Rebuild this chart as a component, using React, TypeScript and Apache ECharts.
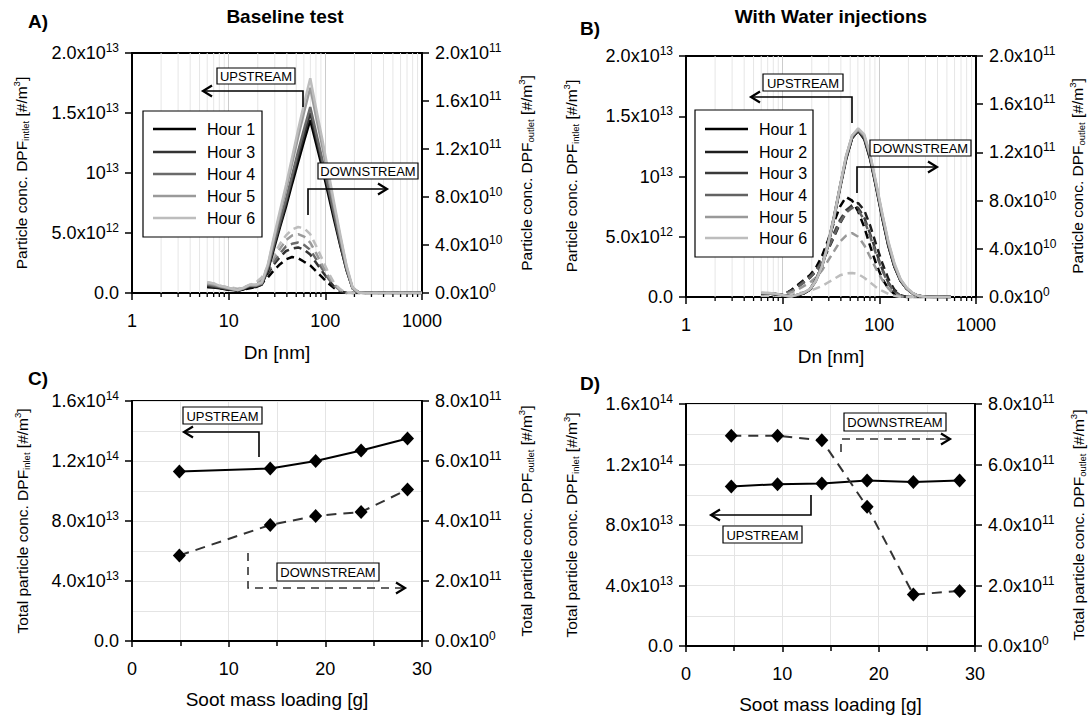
import React, { useEffect, useRef } from 'react';
import * as echarts from 'echarts';

const FONT = '"Liberation Sans", Arial, Helvetica, sans-serif';

// ---------- Panels A / B : size distributions ----------
const DN = [6, 7, 8.1, 9.3, 10.8, 12.4, 14.3, 16.5, 19.1, 22, 25.5, 29.4, 34, 39.2, 45.3, 52.3, 60.4, 69.8, 80.6, 93.1, 107.5, 124.1, 143.3, 165.5, 191.1, 220.7, 254.8, 294.3, 400, 550, 750, 1000];
const UP_UNIT = 1e12; // upstream values below are in 1e12 #/m3
const DOWN_UNIT = 1e10; // downstream values below are in 1e10 #/m3

// Panel A - Baseline test
const A_HOURS = ['Hour 1', 'Hour 3', 'Hour 4', 'Hour 5', 'Hour 6'];
const A_COLORS = ['#000000', '#333333', '#6a6a6a', '#9a9a9a', '#bdbdbd'];
const A_UP_H1 = [0.5, 0.45, 0.4, 0.3, 0.25, 0.2, 0.3, 0.5, 0.5, 0.7, 1.9, 3.7, 5.5, 7.2, 9.1, 10.9, 12.7, 14.4, 12.4, 10.4, 8.2, 6.0, 3.9, 1.9, 0.4, 0.05, 0, 0, 0, 0, 0, 0];
const A_UP_H3 = [0.6, 0.5, 0.45, 0.35, 0.3, 0.2, 0.35, 0.55, 0.55, 0.7, 2.0, 3.9, 5.7, 7.5, 9.5, 11.4, 13.2, 15.0, 12.9, 10.8, 8.6, 6.3, 4.0, 2.0, 0.4, 0.05, 0, 0, 0, 0, 0, 0];
const A_UP_H4 = [0.7, 0.6, 0.5, 0.4, 0.3, 0.25, 0.4, 0.6, 0.6, 0.8, 2.1, 4.1, 6.0, 7.8, 9.8, 11.8, 13.7, 15.5, 13.3, 11.1, 8.8, 6.5, 4.2, 2.0, 0.4, 0.05, 0, 0, 0, 0, 0, 0];
const A_UP_H5 = [0.8, 0.7, 0.55, 0.45, 0.35, 0.25, 0.4, 0.65, 0.65, 0.8, 2.3, 4.5, 6.6, 8.6, 10.8, 13.0, 15.1, 17.1, 14.6, 12.2, 9.6, 7.1, 4.6, 2.2, 0.4, 0.05, 0, 0, 0, 0, 0, 0];
const A_UP_H6 = [0.9, 0.8, 0.6, 0.5, 0.35, 0.25, 0.45, 0.7, 0.7, 0.9, 2.4, 4.7, 6.9, 9.0, 11.3, 13.6, 15.8, 17.9, 15.3, 12.8, 10.1, 7.4, 4.8, 2.3, 0.5, 0.05, 0, 0, 0, 0, 0, 0];
const A_DN_H1 = [0.5, 0.5, 0.4, 0.4, 0.3, 0.2, 0.3, 0.4, 0.5, 0.8, 1.3, 1.9, 2.4, 2.8, 3.0, 2.9, 2.6, 2.3, 1.8, 1.3, 0.8, 0.4, 0.1, 0, 0, 0, 0, 0, 0, 0, 0, 0];
const A_DN_H3 = [0.6, 0.5, 0.45, 0.4, 0.35, 0.25, 0.35, 0.5, 0.6, 1.0, 1.6, 2.4, 3.0, 3.5, 3.7, 3.8, 3.6, 3.2, 2.5, 1.8, 1.1, 0.5, 0.15, 0, 0, 0, 0, 0, 0, 0, 0, 0];
const A_DN_H4 = [0.7, 0.6, 0.5, 0.45, 0.4, 0.3, 0.4, 0.55, 0.7, 1.1, 1.8, 2.6, 3.3, 3.9, 4.1, 4.2, 4.0, 3.6, 2.8, 2.0, 1.2, 0.6, 0.2, 0, 0, 0, 0, 0, 0, 0, 0, 0];
const A_DN_H5 = [0.8, 0.7, 0.55, 0.5, 0.4, 0.3, 0.45, 0.6, 0.8, 1.2, 2.0, 2.9, 3.7, 4.4, 4.8, 4.9, 4.7, 4.2, 3.3, 2.3, 1.4, 0.7, 0.2, 0, 0, 0, 0, 0, 0, 0, 0, 0];
const A_DN_H6 = [0.9, 0.8, 0.6, 0.5, 0.45, 0.35, 0.5, 0.65, 0.9, 1.3, 2.2, 3.2, 4.1, 4.8, 5.3, 5.5, 5.4, 4.9, 3.9, 2.8, 1.7, 0.8, 0.3, 0, 0, 0, 0, 0, 0, 0, 0, 0];

// Panel B - With Water injections
const B_HOURS = ['Hour 1', 'Hour 2', 'Hour 3', 'Hour 4', 'Hour 5', 'Hour 6'];
const B_COLORS = ['#000000', '#1e1e1e', '#3a3a3a', '#626262', '#999999', '#bdbdbd'];
const B_UP_H1 = [0.3, 0.3, 0.25, 0.2, 0.1, 0.05, 0.15, 0.3, 0.6, 1.4, 2.6, 4.3, 6.6, 9.1, 11.5, 13.2, 13.8, 13.1, 11.4, 9.0, 6.5, 4.2, 2.5, 1.35, 0.7, 0.3, 0.1, 0.03, 0, 0];
const B_UP_H2 = [0.3, 0.3, 0.25, 0.2, 0.1, 0.05, 0.15, 0.3, 0.6, 1.4, 2.6, 4.3, 6.6, 9.1, 11.5, 13.2, 13.8, 13.2, 11.5, 9.1, 6.6, 4.3, 2.5, 1.35, 0.7, 0.3, 0.1, 0.03, 0, 0];
const B_UP_H3 = [0.25, 0.3, 0.25, 0.2, 0.1, 0.05, 0.15, 0.3, 0.6, 1.3, 2.5, 4.2, 6.5, 9.0, 11.4, 13.2, 13.8, 13.2, 11.5, 9.1, 6.6, 4.3, 2.6, 1.4, 0.7, 0.3, 0.1, 0.03, 0, 0];
const B_UP_H4 = [0.3, 0.3, 0.25, 0.2, 0.1, 0.05, 0.2, 0.35, 0.6, 1.4, 2.6, 4.4, 6.7, 9.2, 11.6, 13.3, 13.9, 13.3, 11.6, 9.2, 6.7, 4.4, 2.6, 1.4, 0.7, 0.3, 0.1, 0.03, 0, 0];
const B_UP_H5 = [0.35, 0.3, 0.3, 0.2, 0.1, 0.05, 0.2, 0.35, 0.65, 1.4, 2.6, 4.4, 6.7, 9.2, 11.7, 13.4, 13.9, 13.4, 11.7, 9.3, 6.8, 4.5, 2.7, 1.45, 0.75, 0.3, 0.1, 0.03, 0, 0];
const B_UP_H6 = [0.35, 0.35, 0.3, 0.2, 0.1, 0.05, 0.2, 0.35, 0.65, 1.3, 2.5, 4.3, 6.6, 9.2, 11.7, 13.4, 14.0, 13.5, 11.8, 9.4, 6.9, 4.6, 2.8, 1.5, 0.8, 0.35, 0.1, 0.03, 0, 0];
const B_DN_H1 = [0.3, 0.3, 0.25, 0.2, 0.3, 0.6, 1.0, 1.4, 1.8, 2.4, 3.4, 4.7, 6.2, 7.5, 8.3, 8.0, 7.1, 5.8, 4.2, 2.7, 1.5, 0.7, 0.25, 0.05, 0, 0, 0, 0, 0, 0];
const B_DN_H2 = [0.3, 0.3, 0.25, 0.2, 0.3, 0.5, 0.9, 1.2, 1.6, 2.1, 2.9, 3.9, 5.0, 6.1, 7.0, 7.6, 7.8, 7.2, 5.9, 4.3, 2.8, 1.5, 0.6, 0.15, 0, 0, 0, 0, 0, 0];
const B_DN_H3 = [0.3, 0.3, 0.25, 0.2, 0.3, 0.5, 0.9, 1.3, 1.7, 2.2, 3.0, 4.1, 5.3, 6.4, 7.2, 7.6, 7.4, 6.6, 5.2, 3.7, 2.3, 1.2, 0.5, 0.1, 0, 0, 0, 0, 0, 0];
const B_DN_H4 = [0.3, 0.3, 0.25, 0.2, 0.3, 0.5, 0.8, 1.2, 1.6, 2.1, 2.9, 4.0, 5.1, 6.2, 7.0, 7.4, 7.2, 6.4, 5.0, 3.5, 2.2, 1.1, 0.4, 0.1, 0, 0, 0, 0, 0, 0];
const B_DN_H5 = [0.2, 0.2, 0.2, 0.15, 0.2, 0.4, 0.6, 0.9, 1.2, 1.6, 2.2, 3.0, 3.8, 4.6, 5.1, 5.3, 5.0, 4.3, 3.3, 2.3, 1.4, 0.7, 0.25, 0.05, 0, 0, 0, 0, 0, 0];
const B_DN_H6 = [0.1, 0.1, 0.1, 0.1, 0.1, 0.2, 0.3, 0.4, 0.5, 0.7, 0.9, 1.2, 1.5, 1.8, 1.95, 2.0, 1.9, 1.6, 1.2, 0.8, 0.5, 0.25, 0.1, 0, 0, 0, 0, 0, 0, 0];

// ---------- Panels C / D : totals vs soot loading ----------
const C_SOOT = [4.9, 14.3, 19.0, 23.7, 28.5];
const C_UPSTREAM = [1.13e14, 1.15e14, 1.2e14, 1.27e14, 1.35e14];
const C_DOWNSTREAM = [2.85e11, 3.87e11, 4.17e11, 4.3e11, 5.05e11];
const D_SOOT = [4.7, 9.5, 14.1, 18.8, 23.6, 28.4];
const D_UPSTREAM = [1.055e14, 1.07e14, 1.075e14, 1.095e14, 1.085e14, 1.095e14];
const D_DOWNSTREAM = [6.95e11, 6.95e11, 6.8e11, 4.6e11, 1.7e11, 1.82e11];

// ---------- tick labels ----------
const X_LOG_TICKS = ['1', '10', '100', '1000'];
const LOG_MINOR = [2, 3, 4, 5, 6, 7, 8, 9, 20, 30, 40, 50, 60, 70, 80, 90, 200, 300, 400, 500, 600, 700, 800, 900];
const X_SOOT_TICKS = ['0', '10', '20', '30'];
const AB_LEFT_TICKS = ['0.0', '5.0x10^12', '10^13', '1.5x10^13', '2.0x10^13'];
const AB_RIGHT_TICKS = ['0.0x10^0', '4.0x10^10', '8.0x10^10', '1.2x10^11', '1.6x10^11', '2.0x10^11'];
const CD_LEFT_TICKS = ['0.0', '4.0x10^13', '8.0x10^13', '1.2x10^14', '1.6x10^14'];
const CD_RIGHT_TICKS = ['0.0x10^0', '2.0x10^11', '4.0x10^11', '6.0x10^11', '8.0x10^11'];

const toRich = (s: string) => {
  if (s.indexOf('^') < 0) return `{m|${s}}`;
  const [b, e] = s.split('^');
  return `{m|${b}}{e|${e}}`;
};

const tickRich = {
  m: { fontSize: 18, fontFamily: FONT, color: '#000', lineHeight: 22 },
  e: { fontSize: 12, fontFamily: FONT, color: '#000', lineHeight: 12, verticalAlign: 'top' },
};

const GRIDS = [
  { left: 132, top: 53, width: 290, height: 240 },
  { left: 686, top: 56, width: 290, height: 241 },
  { left: 132, top: 401, width: 290, height: 240 },
  { left: 686, top: 404, width: 289, height: 242 },
];

function yAxisCfg(grid: number, pos: 'left' | 'right', max: number, interval: number, labels: string[], minor: boolean) {
  return {
    type: 'value',
    gridIndex: grid,
    position: pos,
    min: 0,
    max,
    interval,
    axisLine: { show: true, lineStyle: { color: '#000', width: 2 } },
    axisTick: { show: true, length: 7, lineStyle: { color: '#000', width: 1.5 } },
    axisLabel: {
      margin: 13,
      formatter: (v: number) => toRich(labels[Math.round(v / interval)] ?? ''),
      rich: tickRich,
    },
    splitLine: { show: minor && pos === 'left', lineStyle: { color: '#e4e4e4', width: 1 } },
    minorTick: { show: false, splitNumber: 2 },
    minorSplitLine: { show: minor && pos === 'left', lineStyle: { color: '#e4e4e4', width: 1 } },
  };
}

function logXAxis(grid: number) {
  return {
    type: 'log',
    logBase: 10,
    gridIndex: grid,
    min: 1,
    max: 1000,
    axisLine: { onZero: false, lineStyle: { color: '#000', width: 2 } },
    axisTick: { length: 7, lineStyle: { color: '#000', width: 1.5 } },
    axisLabel: {
      margin: 19,
      fontSize: 18,
      fontFamily: FONT,
      color: '#000',
      formatter: (v: number) => X_LOG_TICKS[Math.round(Math.log10(v))] ?? '',
    },
    splitLine: { show: true, lineStyle: { color: '#cccccc', width: 1 } },
    minorTick: { show: false },
    name: 'Dn [nm]',
    nameLocation: 'middle',
    nameGap: 50,
    nameTextStyle: { fontSize: 19, fontFamily: FONT, color: '#000' },
  };
}

function sootXAxis(grid: number) {
  return {
    type: 'value',
    gridIndex: grid,
    min: 0,
    max: 30,
    interval: 10,
    axisLine: { onZero: false, lineStyle: { color: '#000', width: 2 } },
    axisTick: { length: 6, lineStyle: { color: '#000', width: 1.5 } },
    minorTick: { show: true, splitNumber: 2, length: 5, lineStyle: { color: '#000', width: 1.5 } },
    axisLabel: {
      margin: 19,
      fontSize: 18,
      fontFamily: FONT,
      color: '#000',
      formatter: (v: number) => X_SOOT_TICKS[Math.round(v / 10)] ?? '',
    },
    splitLine: { show: true, lineStyle: { color: '#e4e4e4', width: 1 } },
    minorSplitLine: { show: true, lineStyle: { color: '#e4e4e4', width: 1 } },
    name: 'Soot mass loading [g]',
    nameLocation: 'middle',
    nameGap: 49,
    nameTextStyle: { fontSize: 19, fontFamily: FONT, color: '#000' },
  };
}

function curve(xi: number, yi: number, vals: number[], unit: number, color: string, dashed: boolean, z: number) {
  return {
    type: 'line',
    xAxisIndex: xi,
    yAxisIndex: yi,
    data: vals.map((v, i) => [DN[i], v * unit]),
    symbol: 'none',
    showSymbol: false,
    silent: true,
    z,
    lineStyle: { color, width: 2.5, type: dashed ? [8, 5] : 'solid' },
  };
}

function logMinorSeries(xi: number, yi: number) {
  return {
    type: 'custom',
    xAxisIndex: xi,
    yAxisIndex: yi,
    silent: true,
    z: 1,
    data: LOG_MINOR.map((v) => [v, 0]),
    renderItem: (params: any, api: any) => {
      const x = api.coord([api.value(0), 0])[0];
      const cs = params.coordSys;
      return {
        type: 'group',
        children: [
          { type: 'line', shape: { x1: x, y1: cs.y, x2: x, y2: cs.y + cs.height }, style: { stroke: '#e6e6e6', lineWidth: 1 } },
          { type: 'line', shape: { x1: x, y1: cs.y + cs.height, x2: x, y2: cs.y + cs.height + 4 }, style: { stroke: '#000', lineWidth: 1.3 } },
        ],
      };
    },
  };
}

function totalSeries(xi: number, yi: number, xs: number[], ys: number[], dashed: boolean) {
  return {
    type: 'line',
    xAxisIndex: xi,
    yAxisIndex: yi,
    data: xs.map((x, i) => [x, ys[i]]),
    symbol: 'diamond',
    symbolSize: [13, 14],
    silent: true,
    z: 4,
    itemStyle: { color: '#000' },
    lineStyle: { color: dashed ? '#333' : '#000', width: 2, type: dashed ? [10, 7] : 'solid' },
  };
}

// ---------- graphic helpers ----------
const Z = 100;
function txt(x: number, y: number, text: string, size: number, bold = false, align = 'center') {
  return {
    type: 'text', x, y, z: Z,
    style: { text, fill: '#000', font: `${bold ? 'bold ' : ''}${size}px ${FONT}`, textAlign: align, textVerticalAlign: 'middle' },
  };
}
function box(x: number, y: number, w: number, h: number, text: string) {
  return [
    { type: 'rect', z: Z, shape: { x, y, width: w, height: h }, style: { fill: '#fff', stroke: '#000', lineWidth: 1.2 } },
    txt(x + w / 2, y + h / 2 + 0.5, text, 13),
  ];
}
function arrow(pts: number[][], dashed: boolean) {
  const n = pts.length;
  const [tx, ty] = pts[n - 1];
  const [px] = pts[n - 2];
  const dir = tx > px ? 1 : -1;
  const color = dashed ? '#333' : '#000';
  return [
    { type: 'polyline', z: Z, shape: { points: pts }, style: { stroke: color, lineWidth: 1.6, fill: null, lineDash: dashed ? [8, 6] : null } },
    { type: 'polyline', z: Z, shape: { points: [[tx - dir * 9, ty - 5.5], [tx, ty], [tx - dir * 9, ty + 5.5]] }, style: { stroke: '#000', lineWidth: 2.2, fill: null } },
  ];
}
function vtitle(x: number, y: number, main: string, sub: string) {
  return {
    type: 'text', x, y, z: Z, rotation: Math.PI / 2,
    style: {
      text: `{m|${main}}{s|${sub}}{m| [#/m}{e|3}{m|]}`,
      fill: '#000',
      font: `15.5px ${FONT}`,
      textAlign: 'center',
      textVerticalAlign: 'middle',
      rich: {
        m: { fontSize: 15.5, fontFamily: FONT, lineHeight: 19 },
        s: { fontSize: 9.5, fontFamily: FONT, lineHeight: 9, verticalAlign: 'bottom' },
        e: { fontSize: 9.5, fontFamily: FONT, lineHeight: 8, verticalAlign: 'top' },
      },
    },
  };
}
function legend(x: number, y: number, w: number, rows: number[], names: string[], colors: string[]) {
  const h = rows[rows.length - 1] - y + 19;
  const els: any[] = [{ type: 'rect', z: Z, shape: { x, y, width: w, height: h }, style: { fill: '#fff', stroke: '#000', lineWidth: 1.2 } }];
  names.forEach((n, i) => {
    els.push({ type: 'line', z: Z, shape: { x1: x + 10, y1: rows[i], x2: x + 53, y2: rows[i] }, style: { stroke: colors[i], lineWidth: 2.5 } });
    els.push(txt(x + 64, rows[i], n, 16, false, 'left'));
  });
  return els;
}

export default function App() {
  const ref = useRef<HTMLDivElement>(null);
  useEffect(() => {
    if (!ref.current) return;
    const chart = echarts.init(ref.current, undefined, { renderer: 'svg' });
    const A_UP = [A_UP_H1, A_UP_H3, A_UP_H4, A_UP_H5, A_UP_H6];
    const A_DN = [A_DN_H1, A_DN_H3, A_DN_H4, A_DN_H5, A_DN_H6];
    const B_UP = [B_UP_H1, B_UP_H2, B_UP_H3, B_UP_H4, B_UP_H5, B_UP_H6];
    const B_DN = [B_DN_H1, B_DN_H2, B_DN_H3, B_DN_H4, B_DN_H5, B_DN_H6];

    const series: any[] = [logMinorSeries(0, 0), logMinorSeries(1, 2)];
    A_DN.forEach((d, i) => series.push(curve(0, 1, d, DOWN_UNIT, A_COLORS[i], true, 3)));
    A_UP.forEach((d, i) => series.push(curve(0, 0, d, UP_UNIT, A_COLORS[i], false, 3)));
    B_DN.forEach((d, i) => series.push(curve(1, 3, d, DOWN_UNIT, B_COLORS[i], true, 3)));
    B_UP.forEach((d, i) => series.push(curve(1, 2, d, UP_UNIT, B_COLORS[i], false, 3)));
    series.push(totalSeries(2, 4, C_SOOT, C_UPSTREAM, false));
    series.push(totalSeries(2, 5, C_SOOT, C_DOWNSTREAM, true));
    series.push(totalSeries(3, 6, D_SOOT, D_UPSTREAM, false));
    series.push(totalSeries(3, 7, D_SOOT, D_DOWNSTREAM, true));

    const elements: any[] = [
      txt(285, 16, 'Baseline test', 19, true),
      txt(831, 16, 'With Water injections', 19, true),
      txt(28, 21, 'A)', 19, true, 'left'),
      txt(580, 28, 'B)', 19, true, 'left'),
      txt(28, 378, 'C)', 19, true, 'left'),
      txt(580, 383, 'D)', 19, true, 'left'),
      vtitle(21, 173, 'Particle conc. DPF', 'intlet'),
      vtitle(526, 173, 'Particle conc. DPF', 'outlet'),
      vtitle(571, 176, 'Particle conc. DPF', 'intlet'),
      vtitle(1077, 176, 'Particle conc. DPF', 'outlet'),
      vtitle(22, 521, 'Total particle conc. DPF', 'inlet'),
      vtitle(526, 521, 'Total particle conc. DPF', 'outlet'),
      vtitle(571, 525, 'Total particle conc. DPF', 'inlet'),
      vtitle(1078, 525, 'Total particle conc. DPF', 'outlet'),
      ...legend(143, 111, 119, [129, 152, 174, 196, 218], A_HOURS, A_COLORS),
      ...legend(695, 110, 118, [129, 152, 173, 195, 217, 238], B_HOURS, B_COLORS),
      // A annotations
      ...arrow([[303, 107], [303, 91], [203, 91]], false),
      ...box(217, 68, 78, 16, 'UPSTREAM'),
      ...arrow([[308, 215], [308, 189], [387, 189]], false),
      ...box(318, 163, 100, 16, 'DOWNSTREAM'),
      // B annotations
      ...arrow([[852, 123], [852, 97], [751, 97]], false),
      ...box(763, 74, 80, 17, 'UPSTREAM'),
      ...arrow([[857, 193], [857, 167], [937, 167]], false),
      ...box(870, 140, 101, 16, 'DOWNSTREAM'),
      // C annotations
      ...arrow([[259, 457], [259, 432], [184, 432]], false),
      ...box(183, 407, 79, 17, 'UPSTREAM'),
      ...arrow([[248, 553], [248, 588], [405, 588]], true),
      ...box(277, 563, 102, 18, 'DOWNSTREAM'),
      // D annotations
      ...arrow([[841, 452], [841, 439], [950, 439]], true),
      ...box(844, 413, 102, 18, 'DOWNSTREAM'),
      ...arrow([[811, 495], [811, 515], [711, 515]], false),
      ...box(723, 526, 79, 17, 'UPSTREAM'),
    ];

    chart.setOption({
      animation: false,
      backgroundColor: '#fff',
      textStyle: { fontFamily: FONT },
      grid: GRIDS.map((g) => ({ ...g, show: true, borderColor: '#000', borderWidth: 2, backgroundColor: 'transparent', containLabel: false })),
      xAxis: [logXAxis(0), logXAxis(1), sootXAxis(2), sootXAxis(3)],
      yAxis: [
        yAxisCfg(0, 'left', 2e13, 5e12, AB_LEFT_TICKS, false),
        yAxisCfg(0, 'right', 2e11, 4e10, AB_RIGHT_TICKS, false),
        yAxisCfg(1, 'left', 2e13, 5e12, AB_LEFT_TICKS, false),
        yAxisCfg(1, 'right', 2e11, 4e10, AB_RIGHT_TICKS, false),
        yAxisCfg(2, 'left', 1.6e14, 4e13, CD_LEFT_TICKS, true),
        yAxisCfg(2, 'right', 8e11, 2e11, CD_RIGHT_TICKS, true),
        yAxisCfg(3, 'left', 1.6e14, 4e13, CD_LEFT_TICKS, true),
        yAxisCfg(3, 'right', 8e11, 2e11, CD_RIGHT_TICKS, true),
      ],
      series,
      graphic: { elements },
    });
    return () => chart.dispose();
  }, []);
  return <div ref={ref} style={{ position: 'absolute', left: 0, top: 0, width: 1088, height: 719, background: '#fff' }} />;
}
